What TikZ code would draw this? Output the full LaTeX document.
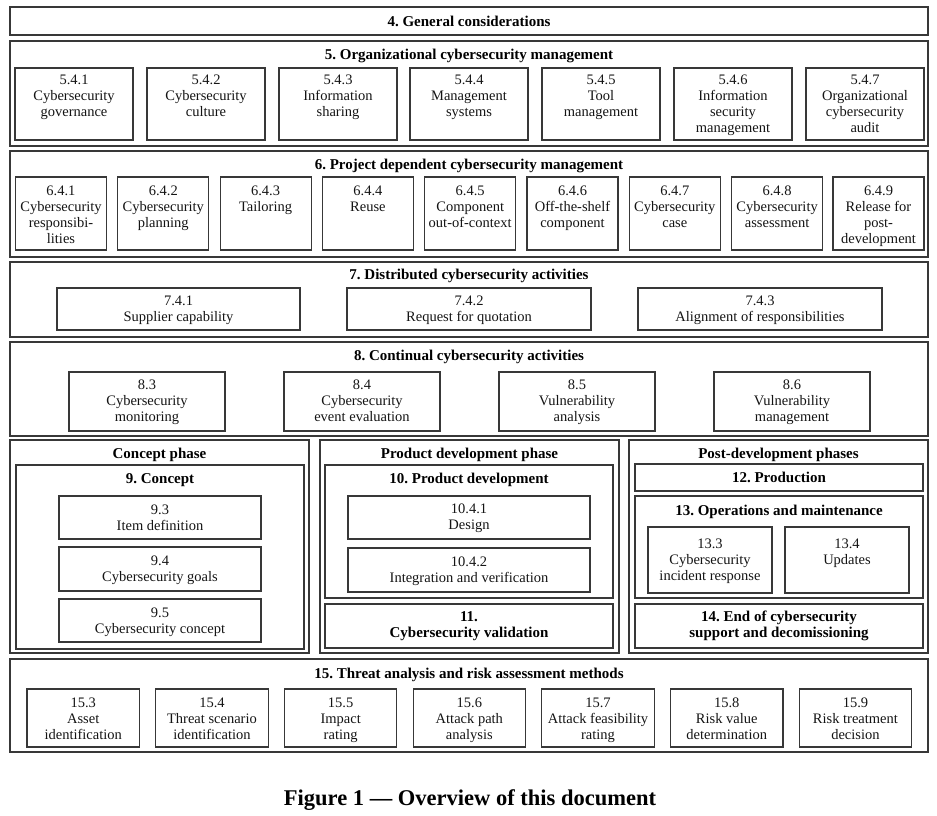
\documentclass[tikz,border=0pt]{standalone}
\usepackage{fontspec}
\setmainfont{Liberation Serif}
\frenchspacing
\definecolor{linegray}{HTML}{383838}

% item box: name, x1, y1, x2, y2, top padding, text (set from the top)
\newcommand{\itembox}[7]{%
  \node[frame, anchor=north west, minimum width={#4-#2}, minimum height={#5-#3}] (#1) at (#2,#3) {};
  \node[lbl, anchor=north] (#1-txt) at ([yshift=-#6pt]#1.north) {#7};}

% section box: name, x1, y1, x2, y2, title centre y, title
\newcommand{\sectbox}[7]{%
  \node[frame, anchor=north west, minimum width={#4-#2}, minimum height={#5-#3}] (#1) at (#2,#3) {};
  \node[ttl, anchor=base] (#1-title) at ({(#2+#4)/2},{#6+5}) {#7};}

% phase box: same as section box, with a heavy outline
\newcommand{\phasebox}[7]{%
  \node[phase, anchor=north west, minimum width={#4-#2}, minimum height={#5-#3}] (#1) at (#2,#3) {};
  \node[ttl, anchor=base] (#1-title) at ({(#2+#4)/2},{#6+5}) {#7};}

\begin{document}
\begin{tikzpicture}[x=1pt,y=-1pt,
  frame/.style={draw=linegray, line width=1.1pt, inner sep=0pt, outer sep=0pt},
  phase/.style={draw=linegray, line width=2.3pt, inner sep=0pt, outer sep=0pt},
  lbl/.style={inner sep=0pt, align=center, text=black!92, font=\fontsize{14.5}{16}\selectfont},
  ttl/.style={inner sep=0pt, align=center, text=black, font=\bfseries\fontsize{15}{16}\selectfont},
  captext/.style={inner sep=0pt, text=black, font=\bfseries\fontsize{22.5}{26}\selectfont},
]
\useasboundingbox (0,0) rectangle (937,815);

% 4
\sectbox{s4}{10}{7}{928}{35}{21}{4. General considerations}

% 5
\sectbox{s5}{10}{41}{928}{146}{54}{5. Organizational cybersecurity management}
\itembox{b541}{15}{68}{133}{140}{6.5}{5.4.1\\Cybersecurity\\governance}
\itembox{b542}{147}{68}{265}{140}{6.5}{5.4.2\\Cybersecurity\\culture}
\itembox{b543}{279}{68}{397}{140}{6.5}{5.4.3\\Information\\sharing}
\itembox{b544}{410}{68}{528}{140}{6.5}{5.4.4\\Management\\systems}
\itembox{b545}{542}{68}{660}{140}{6.5}{5.4.5\\Tool\\management}
\itembox{b546}{674}{68}{792}{140}{6.5}{5.4.6\\Information\\security\\management}
\itembox{b547}{806}{68}{924}{140}{6.5}{5.4.7\\Organizational\\cybersecurity\\audit}

% 6
\sectbox{s6}{10}{151}{928}{257}{164}{6. Project dependent cybersecurity management}
\itembox{b641}{15.5}{177}{106.5}{250}{8.5}{6.4.1\\Cybersecurity\\responsibi-\\lities}
\itembox{b642}{117.8}{177}{208.8}{250}{8.5}{6.4.2\\Cybersecurity\\planning}
\itembox{b643}{220.1}{177}{311.1}{250}{8.5}{6.4.3\\Tailoring}
\itembox{b644}{322.4}{177}{413.4}{250}{8.5}{6.4.4\\Reuse}
\itembox{b645}{424.7}{177}{515.7}{250}{8.5}{6.4.5\\Component\\out-of-context}
\itembox{b646}{527}{177}{618}{250}{8.5}{6.4.6\\Off-the-shelf\\component}
\itembox{b647}{629.3}{177}{720.3}{250}{8.5}{6.4.7\\Cybersecurity\\case}
\itembox{b648}{731.6}{177}{822.6}{250}{8.5}{6.4.8\\Cybersecurity\\assessment}
\itembox{b649}{833}{177}{924}{250}{8.5}{6.4.9\\Release for\\post-\\development}

% 7
\sectbox{s7}{10}{262}{928}{337}{274}{7. Distributed cybersecurity activities}
\itembox{b741}{57}{288}{300}{330}{7.5}{7.4.1\\Supplier capability}
\itembox{b742}{347}{288}{591}{330}{7.5}{7.4.2\\Request for quotation}
\itembox{b743}{638}{288}{882}{330}{7.5}{7.4.3\\Alignment of responsibilities}

% 8
\sectbox{s8}{10}{342}{928}{436}{355}{8. Continual cybersecurity activities}
\itembox{b83}{69}{372}{225}{431}{7.5}{8.3\\Cybersecurity\\monitoring}
\itembox{b84}{284}{372}{440}{431}{7.5}{8.4\\Cybersecurity\\event evaluation}
\itembox{b85}{499}{372}{655}{431}{7.5}{8.5\\Vulnerability\\analysis}
\itembox{b86}{714}{372}{870}{431}{7.5}{8.6\\Vulnerability\\management}

% phases
\phasebox{pc}{10}{440}{309}{653}{453}{Concept phase}
\phasebox{pd}{320}{440}{619}{653}{453}{Product development phase}
\phasebox{pp}{629}{440}{928}{653}{453}{Post-development phases}

% 9
\sectbox{s9}{16}{465}{304}{649}{478}{9. Concept}
\itembox{b93}{59}{496}{261}{539}{8.5}{9.3\\Item definition}
\itembox{b94}{59}{547}{261}{591}{8.5}{9.4\\Cybersecurity goals}
\itembox{b95}{59}{599}{261}{642}{8.5}{9.5\\Cybersecurity concept}

% 10, 11
\sectbox{s10}{325}{465}{613}{598}{478}{10. Product development}
\itembox{b1041}{348}{496}{590}{539}{7.5}{10.4.1\\Design}
\itembox{b1042}{348}{548}{590}{592}{8.5}{10.4.2\\Integration and verification}
\node[frame, anchor=north west, minimum width=288, minimum height=44] (s11) at (325,604) {};
\node[ttl] (s11-title) at (s11.center) {11.\\Cybersecurity validation};

% 12, 13, 14
\node[frame, anchor=north west, minimum width=288, minimum height=27] (s12) at (635,464) {};
\node[ttl] (s12-title) at (s12.center) {12. Production};
\sectbox{s13}{635}{496}{923}{598}{510}{13. Operations and maintenance}
\itembox{b133}{648}{527}{772}{593}{11.5}{13.3\\Cybersecurity\\incident response}
\itembox{b134}{785}{527}{909}{593}{11.5}{13.4\\Updates}
\node[frame, anchor=north west, minimum width=288, minimum height=44] (s14) at (635,604) {};
\node[ttl] (s14-title) at (s14.center) {14. End of cybersecurity\\support and decomissioning};

% 15
\sectbox{s15}{10}{659}{928}{752}{673}{15. Threat analysis and risk assessment methods}
\itembox{b153}{27}{689}{139.5}{747}{8.5}{15.3\\Asset\\identification}
\itembox{b154}{155.7}{689}{268.2}{747}{8.5}{15.4\\Threat scenario\\identification}
\itembox{b155}{284.4}{689}{396.9}{747}{8.5}{15.5\\Impact\\rating}
\itembox{b156}{413.1}{689}{525.6}{747}{8.5}{15.6\\Attack path\\analysis}
\itembox{b157}{541.8}{689}{654.3}{747}{8.5}{15.7\\Attack feasibility\\rating}
\itembox{b158}{670.5}{689}{783}{747}{8.5}{15.8\\Risk value\\determination}
\itembox{b159}{799.2}{689}{911.7}{747}{8.5}{15.9\\Risk treatment\\decision}

% caption
\node[captext, anchor=base] (caption) at (470,805) {Figure 1 — Overview of this document};
\end{tikzpicture}
\end{document}
